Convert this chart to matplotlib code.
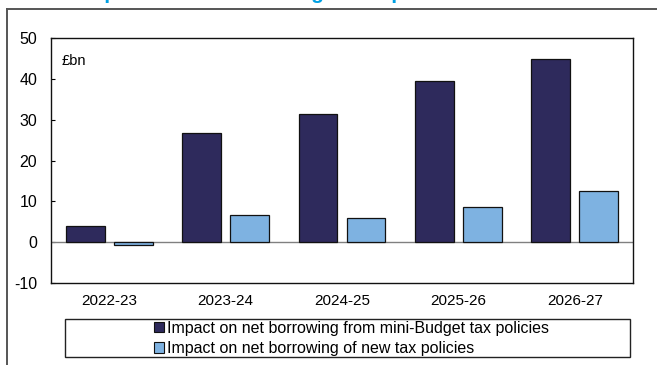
import matplotlib
matplotlib.use("Agg")
import matplotlib.pyplot as plt
import numpy as np
from matplotlib.lines import Line2D
from matplotlib.patches import Patch, Rectangle

plt.rcParams["font.family"] = ["Liberation Sans", "DejaVu Sans"]
plt.rcParams["axes.unicode_minus"] = False

years = ["2022-23", "2023-24", "2024-25", "2025-26", "2026-27"]
mini_budget = [3.9, 26.8, 31.4, 39.5, 44.9]
new_policies = [-0.8, 6.6, 5.9, 8.5, 12.5]
label_mini = "Impact on net borrowing from mini-Budget tax policies"
label_new = "Impact on net borrowing of new tax policies"
title = "Impact on net borrowing of tax policies"

dark = "#2e2a5c"
light = "#7eb2e1"

fig = plt.figure(figsize=(6.57, 3.65), dpi=100)
ax = fig.add_axes([51 / 657, 1 - 283 / 365, 582 / 657, 245 / 365])

x = np.arange(len(years))
w = 0.333
off = w / 2 + 0.04
ax.bar(x - off, mini_budget, w, color=dark, edgecolor="#111111", lw=0.9, zorder=3)
ax.bar(x + off, new_policies, w, color=light, edgecolor="#111111", lw=0.9, zorder=3)
ax.axhline(0, color="#808080", lw=1.0, zorder=2)

ax.set_xlim(-0.5, len(years) - 0.5)
ax.set_ylim(-10, 50)
ax.set_yticks(range(-10, 51, 10))
ax.set_xticks(x)
ax.set_xticklabels(years)
ax.tick_params(axis="y", direction="in", length=3, pad=10, labelsize=11.5)
ax.tick_params(axis="x", length=0, pad=8, labelsize=11)
for s in ax.spines.values():
    s.set_color("#111111")
    s.set_linewidth(1.0)
ax.text(0.019, 0.905, "£bn", transform=ax.transAxes, fontsize=10.5, va="center")

# outer frame of the original figure (cropped)
fig.add_artist(Line2D([7 / 657, 7 / 657], [0, 1 - 9 / 365], color="#555555", lw=1.4,
                      transform=fig.transFigure))
fig.add_artist(Line2D([7 / 657, 1], [1 - 9 / 365, 1 - 9 / 365], color="#555555", lw=1.4,
                      transform=fig.transFigure))

# title, mostly cut off above the image
fig.text(80 / 657, 1 + 1.2 / 365, title, color="#00a0e3", fontsize=15, fontweight="bold",
         va="baseline", ha="left")

# legend box
fig.add_artist(Rectangle((65 / 657, 1 - 357 / 365), 565 / 657, 38 / 365, fill=False,
                         edgecolor="#222222", lw=1.0, transform=fig.transFigure))
handles = [Patch(facecolor=dark, edgecolor="#111111", lw=0.8, label=label_mini),
           Patch(facecolor=light, edgecolor="#111111", lw=0.8, label=label_new)]
fig.legend(handles=handles, loc="center", bbox_to_anchor=(351.5 / 657, 1 - 338.5 / 365),
           frameon=False, fontsize=11.5, handlelength=0.62, handleheight=0.62,
           handletextpad=0.15, labelspacing=0.32, borderpad=0)

fig.savefig("out.png", dpi=100)
